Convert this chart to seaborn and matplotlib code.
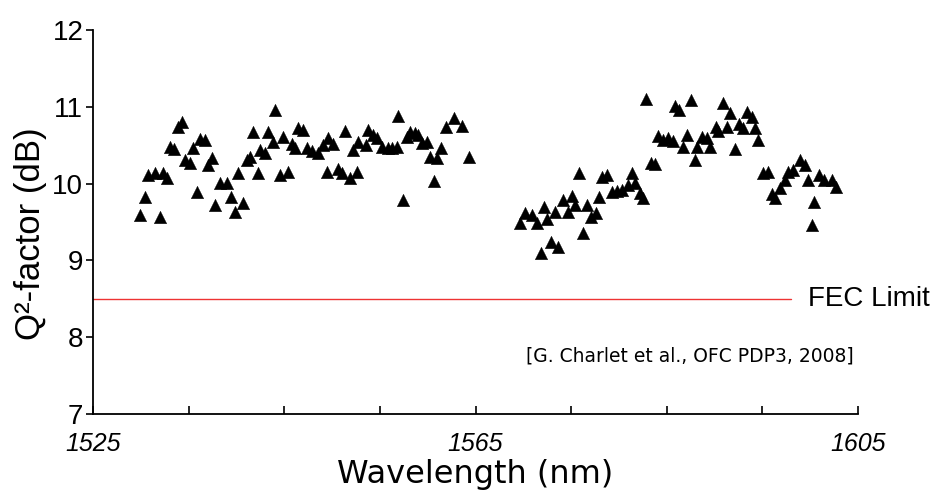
import matplotlib
matplotlib.use("Agg")
import matplotlib.pyplot as plt
from matplotlib.ticker import FixedLocator
import seaborn as sns
import pandas as pd

# ---- data ----
wavelength_c = [1529.9, 1530.4, 1530.7, 1531.5, 1532.0, 1532.3, 1532.7, 1533.1, 1533.5, 1533.9,
                1534.3, 1534.6, 1535.1, 1535.5, 1535.9, 1536.2, 1536.7, 1537.0, 1537.4, 1537.8,
                1538.3, 1539.0, 1539.4, 1539.9, 1540.2, 1540.7, 1541.1, 1541.4, 1541.7, 1542.3,
                1542.5, 1543.0, 1543.3, 1543.8, 1544.0, 1544.6, 1544.9, 1545.4, 1545.8, 1546.1,
                1546.4, 1547.0, 1547.4, 1547.9, 1548.5, 1549.0, 1549.5, 1549.6, 1550.1, 1550.6,
                1551.0, 1551.3, 1551.9, 1552.2, 1552.6, 1552.7, 1553.5, 1553.8, 1554.3, 1554.7,
                1555.2, 1555.8, 1556.3, 1556.8, 1556.9, 1557.4, 1557.8, 1558.2, 1558.7, 1559.0,
                1559.4, 1559.9, 1560.2, 1560.7, 1561.0, 1561.4, 1561.9, 1562.7, 1563.6, 1564.3]
q2_c = [9.59, 9.83, 10.11, 10.14, 9.57, 10.14, 10.07, 10.48, 10.45, 10.74,
        10.80, 10.31, 10.27, 10.46, 9.89, 10.58, 10.57, 10.24, 10.33, 9.72,
        10.01, 10.01, 9.83, 9.63, 10.14, 9.75, 10.31, 10.35, 10.67, 10.14,
        10.44, 10.40, 10.67, 10.54, 10.96, 10.11, 10.61, 10.15, 10.52, 10.46,
        10.72, 10.70, 10.46, 10.42, 10.40, 10.50, 10.15, 10.59, 10.52, 10.19,
        10.14, 10.68, 10.07, 10.44, 10.15, 10.54, 10.50, 10.70, 10.63, 10.59,
        10.48, 10.46, 10.46, 10.48, 10.88, 9.79, 10.61, 10.67, 10.66, 10.63,
        10.53, 10.54, 10.35, 10.03, 10.33, 10.46, 10.74, 10.85, 10.75, 10.35]

wavelength_l = [1569.7, 1570.2, 1570.9, 1571.4, 1571.8, 1572.2, 1572.5, 1572.9, 1573.3, 1573.6,
                1574.1, 1574.7, 1575.1, 1575.4, 1575.8, 1576.2, 1576.7, 1577.1, 1577.6, 1577.9,
                1578.2, 1578.8, 1579.3, 1579.8, 1580.3, 1580.9, 1581.4, 1581.7, 1582.2, 1582.5,
                1582.8, 1583.3, 1583.8, 1584.1, 1584.6, 1585.1, 1585.6, 1585.9, 1586.3, 1586.7,
                1587.1, 1587.5, 1588.0, 1588.2, 1588.7, 1589.2, 1589.5, 1590.1, 1590.4, 1590.9,
                1591.3, 1591.6, 1592.1, 1592.5, 1593.0, 1593.4, 1593.9, 1594.2, 1594.5, 1595.1,
                1595.6, 1596.0, 1596.3, 1596.8, 1597.4, 1597.7, 1598.2, 1598.9, 1599.5, 1599.8,
                1600.2, 1600.4, 1600.9, 1601.4, 1602.3, 1602.7]
q2_l = [9.49, 9.62, 9.59, 9.49, 9.10, 9.70, 9.54, 9.24, 9.63, 9.17,
        9.79, 9.63, 9.84, 9.72, 10.14, 9.36, 9.72, 9.57, 9.62, 9.83,
        10.09, 10.11, 9.89, 9.90, 9.92, 9.98, 10.14, 10.01, 9.88, 9.81,
        11.10, 10.27, 10.26, 10.62, 10.57, 10.59, 10.55, 11.01, 10.96, 10.48,
        10.63, 11.09, 10.31, 10.48, 10.61, 10.59, 10.48, 10.74, 10.68, 11.05,
        10.74, 10.92, 10.45, 10.78, 10.72, 10.93, 10.87, 10.72, 10.57, 10.14,
        10.15, 9.86, 9.81, 9.94, 10.05, 10.15, 10.18, 10.31, 10.24, 10.05,
        9.46, 9.76, 10.11, 10.05, 10.05, 9.96]

fec_x = [1525, 1598]
fec_y = [8.5, 8.5]
fec_label = "FEC Limit"
citation = "[G. Charlet et al., OFC PDP3, 2008]"
x_major = [1525, 1565, 1605]
x_minor = [1535, 1545, 1555, 1575, 1585, 1595]
y_ticks = [7, 8, 9, 10, 11, 12]

df = pd.DataFrame({"Wavelength": wavelength_c + wavelength_l,
                   "Q2": q2_c + q2_l})

sns.set_theme(style="ticks")
plt.rcParams["font.family"] = ["Liberation Sans", "DejaVu Sans"]
plt.rcParams["text.color"] = "black"
plt.rcParams["axes.labelcolor"] = "black"
plt.rcParams["xtick.color"] = "black"
plt.rcParams["ytick.color"] = "black"

fig = plt.figure(figsize=(9.52, 4.99), dpi=100)
ax = fig.add_axes([0.0977, 0.1703, 0.9013 - 0.0977, 0.9399 - 0.1703])

sns.scatterplot(data=df, x="Wavelength", y="Q2", marker="^", s=80,
                color="black", edgecolor="black", linewidth=0.3, ax=ax, zorder=3)
sns.lineplot(x=fec_x, y=fec_y, color="#ee3333", linewidth=1.0, ax=ax, zorder=2)

ax.set_xlim(1525, 1605)
ax.set_ylim(7, 12)
sns.despine(ax=ax)
for s in ["left", "bottom"]:
    ax.spines[s].set_color("black")
    ax.spines[s].set_linewidth(1.3)

ax.xaxis.set_major_locator(FixedLocator(x_major))
ax.xaxis.set_minor_locator(FixedLocator(x_minor))
ax.set_xticklabels([str(v) for v in x_major], fontstyle="italic", fontsize=18)
ax.tick_params(axis="x", which="both", direction="in", length=6, width=1.2,
               color="black", pad=13, labelcolor="black")
ax.set_yticks(y_ticks)
ax.set_yticklabels([str(v) for v in y_ticks], fontsize=20)
ax.tick_params(axis="y", which="major", direction="out", length=5, width=1.2,
               color="black", pad=2, labelcolor="black")

ax.set_xlabel("Wavelength (nm)", fontsize=23, family="DejaVu Sans", labelpad=2,
              color="black")
ax.set_ylabel("Q²-factor (dB)", fontsize=25, color="black")
ax.yaxis.set_label_coords(-0.060, 0.47)

ax.text(1599.8, 8.5, fec_label, fontsize=20, va="center", ha="left", color="black")
ax.text(1604.5, 7.75, citation, fontsize=13.5, va="center", ha="right",
        family="DejaVu Sans", color="black")

fig.savefig("out.png", dpi=100)
